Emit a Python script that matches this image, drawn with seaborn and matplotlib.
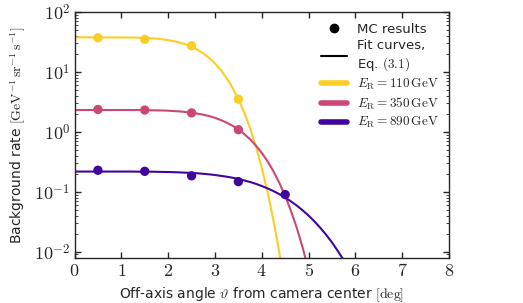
import numpy as np
import pandas as pd
import matplotlib
matplotlib.use("Agg")
import matplotlib.pyplot as plt
import seaborn as sns
from matplotlib.lines import Line2D

# ============================
#  DATA
# ============================
energies = ["110", "350", "890"]
colors = ["#fcce25", "#cc4778", "#41049d"]

# MC results
mc_theta = [0.5, 1.5, 2.5, 3.5, 4.5]
mc_110 = [37.3, 35.1, 27.5, 3.52, np.nan]
mc_350 = [2.37, 2.32, 2.08, 1.09, np.nan]
mc_890 = [0.229, 0.220, 0.185, 0.148, 0.090]

# fit curves, Eq. (3.1), sampled every 0.125 deg from 0 to 6
fit_theta = [i * 0.125 for i in range(49)]
fit_110 = [37.9, 37.9, 37.9, 37.9, 37.9, 37.9, 37.8, 37.8, 37.8, 37.7, 37.6, 37.4,
           37.1, 36.7, 36.1, 35.2, 34.1, 32.7, 31.0, 28.9, 26.4, 23.6, 20.5, 17.2,
           13.9, 10.8, 7.91, 5.47, 3.54, 2.11, 1.16, 0.572, 0.253, 0.0987, 0.0334,
           0.0097, 0.00235] + [np.nan] * 12
fit_350 = [2.32] * 12 + [2.31, 2.30, 2.29, 2.28, 2.26, 2.23, 2.20, 2.15, 2.10, 2.02,
           1.94, 1.84, 1.72, 1.58, 1.43, 1.27, 1.10, 0.924, 0.753, 0.592, 0.447,
           0.322, 0.220, 0.1415, 0.0854, 0.0478, 0.0247, 0.0116, 0.00495, 0.00189,
           0.000637] + [np.nan] * 6
fit_890 = [0.218] * 11 + [0.217, 0.217, 0.217, 0.216, 0.215, 0.214, 0.213, 0.211,
           0.209, 0.207, 0.204, 0.200, 0.196, 0.191, 0.185, 0.179, 0.172, 0.164,
           0.155, 0.146, 0.136, 0.125, 0.114, 0.103, 0.0915, 0.080, 0.0692, 0.0588,
           0.049, 0.0401, 0.0321, 0.0251, 0.0192, 0.0143, 0.0103, 0.00723, 0.00491,
           0.00322]

y_ticks = [0.01, 0.1, 1, 10, 100]
y_ticklabels = [r"$10^{-2}$", r"$10^{-1}$", r"$10^{0}$", r"$10^{1}$", r"$10^{2}$"]
x_ticks = list(range(9))

mc = pd.DataFrame({"theta": mc_theta * 3,
                   "rate": mc_110 + mc_350 + mc_890,
                   "E": sum([[e] * len(mc_theta) for e in energies], [])}).dropna()
fit = pd.DataFrame({"theta": fit_theta * 3,
                    "rate": fit_110 + fit_350 + fit_890,
                    "E": sum([[e] * len(fit_theta) for e in energies], [])}).dropna()

# ============================
#  PLOT
# ============================
sns.set_style("ticks")
plt.rcParams["mathtext.fontset"] = "cm"
plt.rcParams["font.family"] = ["DejaVu Sans"]

fig = plt.figure(figsize=(5.23, 3.03), dpi=100)
ax = fig.add_axes([0.1425, 0.150, 0.716, 0.810])

pal = dict(zip(energies, colors))
sns.lineplot(data=fit, x="theta", y="rate", hue="E", palette=pal, lw=1.5,
             legend=False, ax=ax)
sns.scatterplot(data=mc, x="theta", y="rate", hue="E", palette=pal, s=45,
                edgecolor="none", legend=False, ax=ax, zorder=3)

ax.set_yscale("log")
ax.set_xlim(0, 8)
ax.set_ylim(0.008, 100)
ax.set_xticks(x_ticks)
ax.set_xticklabels([rf"$\mathrm{{{i}}}$" for i in x_ticks], fontsize=13)
ax.set_yticks(y_ticks)
ax.set_yticklabels(y_ticklabels, fontsize=13)
ax.tick_params(which="both", direction="in", top=True, right=True)
ax.tick_params(which="major", length=4, width=1, pad=3)
ax.tick_params(which="minor", length=2, width=0.6)
ax.tick_params(axis="x", which="minor", top=False, bottom=False)
for sp in ax.spines.values():
    sp.set_linewidth(1.0)

ax.set_xlabel(r"Off-axis angle $\vartheta$ from camera center $[\mathrm{deg}]$", fontsize=10)
ax.set_ylabel(r"Background rate $[\mathrm{GeV}^{-1}\,\mathrm{sr}^{-1}\,\mathrm{s}^{-1}]$", fontsize=10)

handles = [Line2D([], [], ls="none", marker="o", color="black", ms=6),
           Line2D([], [], color="black", lw=1.5)]
labels = ["MC results", "Fit curves,\nEq. $(3.1)$"]
for e, c in zip(energies, colors):
    handles.append(Line2D([], [], color=c, lw=4))
    labels.append(r"$E_\mathrm{R} = " + e + r"\,\mathrm{GeV}$")
ax.legend(handles, labels, loc="upper right", frameon=False, fontsize=9.5,
          handlelength=2.0, handletextpad=0.7, labelspacing=0.28,
          borderaxespad=0.4)

fig.savefig("out.png", dpi=100)
